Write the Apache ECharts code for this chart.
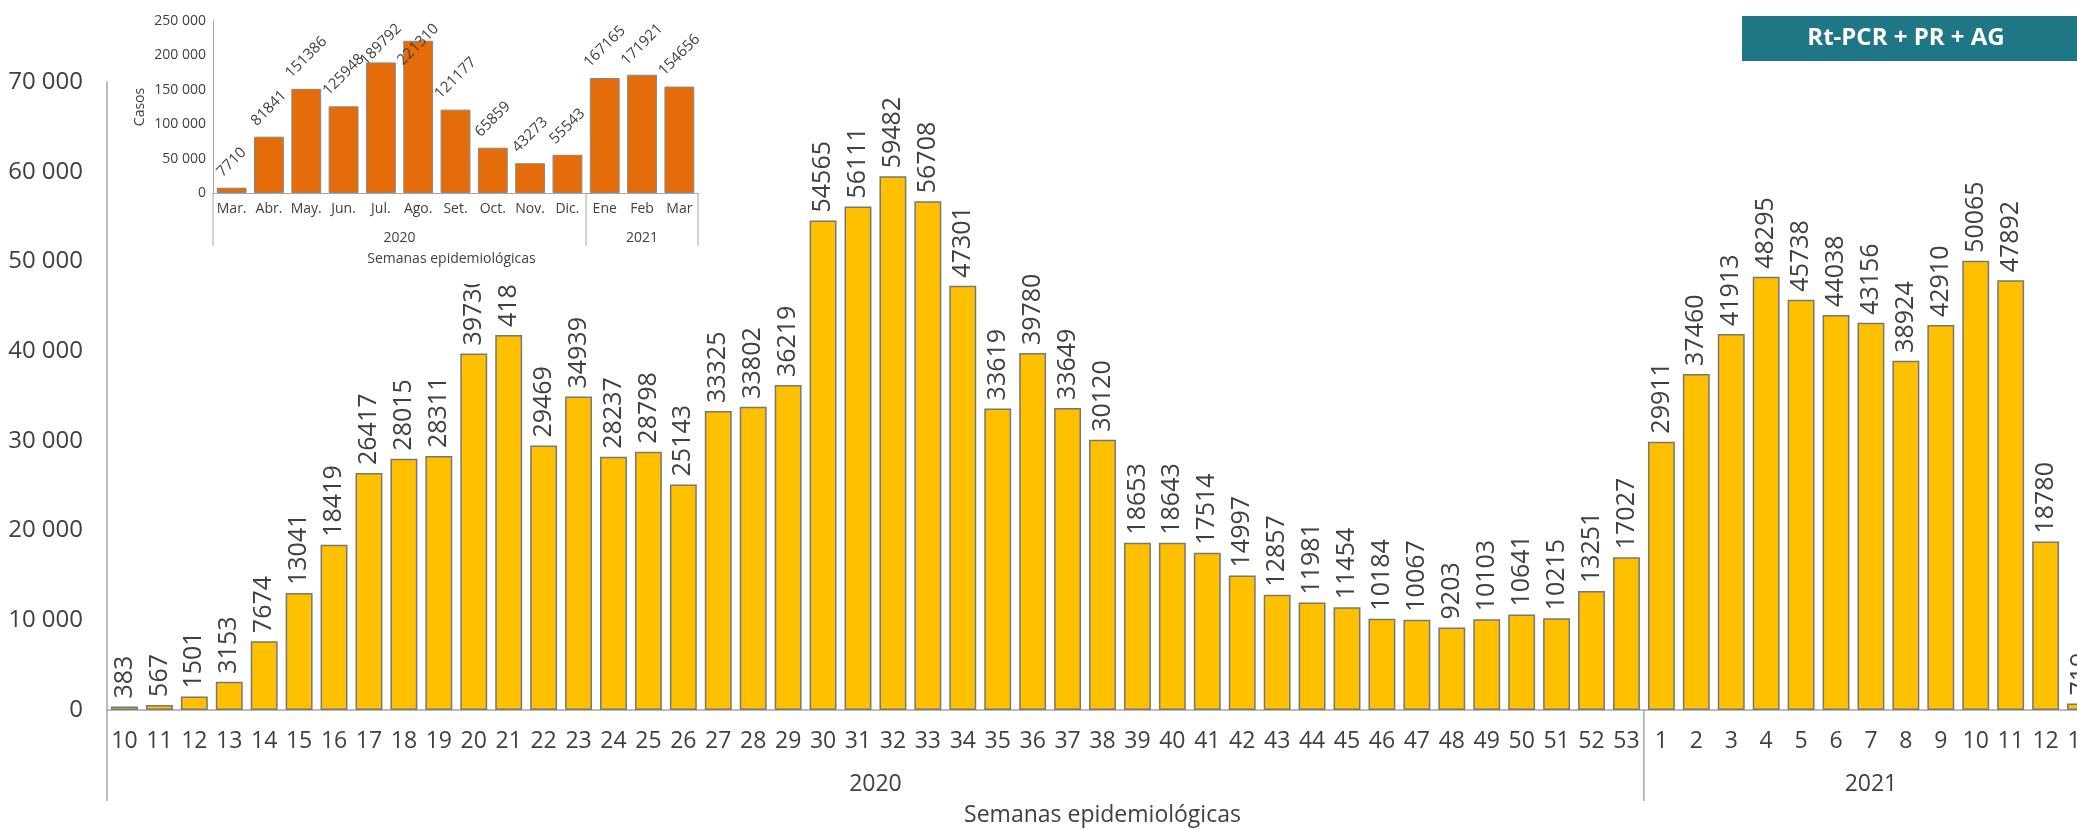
<!DOCTYPE html>
<html><head><meta charset="utf-8">
<script src="https://cdn.jsdelivr.net/npm/echarts@6/dist/echarts.min.js"></script>
<style>html,body{margin:0;padding:0;overflow:hidden;background:#fff}#c{width:2100px;height:829px}</style>
</head><body><div id="c"></div>
<script>
// ---- main chart data (weekly cases) ----
const weeks2020 = ['10','11','12','13','14','15','16','17','18','19','20','21','22','23','24','25','26','27','28','29','30','31','32','33','34','35','36','37','38','39','40','41','42','43','44','45','46','47','48','49','50','51','52','53'];
const weeks2021 = ['1','2','3','4','5','6','7','8','9','10','11','12','13'];
const cases2020 = [383,567,1501,3153,7674,13041,18419,26417,28015,28311,39730,41800,29469,34939,28237,28798,25143,33325,33802,36219,54565,56111,59482,56708,47301,33619,39780,33649,30120,18653,18643,17514,14997,12857,11981,11454,10184,10067,9203,10103,10641,10215,13251,17027];
const cases2021 = [29911,37460,41913,48295,45738,44038,43156,38924,42910,50065,47892,18780,719];
const yearLabels = ['2020','2021'];
const yTicks = [0,10000,20000,30000,40000,50000,60000,70000];

// ---- inset data (monthly cases) ----
const months2020 = ['Mar.','Abr.','May.','Jun.','Jul.','Ago.','Set.','Oct.','Nov.','Dic.'];
const months2021 = ['Ene','Feb','Mar'];
const monthly2020 = [7710,81841,151386,125948,189792,221310,121177,65859,43273,55543];
const monthly2021 = [167165,171921,154656];

const FONT = 'Open Sans';
const TXT = '#404040';
const fmt = v => String(v).replace(/\B(?=(\d{3})+(?!\d))/g, ' ');

const weekCats = weeks2020.concat(weeks2021);
const weekVals = cases2020.concat(cases2021);
const monthCats = months2020.concat(months2021);
const monthVals = monthly2020.concat(monthly2021);

const INSET_TOP = 21;

const chart = echarts.init(document.getElementById('c'), null, {renderer: 'canvas'});

const option = {
  animation: false,
  backgroundColor: '#fff',
  textStyle: {fontFamily: FONT, color: TXT},
  grid: [
    {left: 107, right: 2, top: 82, bottom: 119},
    {left: 213, right: 1402, top: INSET_TOP, bottom: 636}
  ],
  xAxis: [
    {
      type: 'category', gridIndex: 0, data: weekCats,
      axisLine: {lineStyle: {color: '#a6a6a6', width: 1.5}},
      axisTick: {show: false},
      axisLabel: {interval: 0, fontSize: 23, color: TXT, fontFamily: FONT, margin: 20}
    },
    {
      type: 'category', gridIndex: 1, data: monthCats, z: 60,
      axisLine: {lineStyle: {color: '#a6a6a6', width: 1}},
      axisTick: {show: false},
      axisLabel: {interval: 0, fontSize: 14, color: TXT, fontFamily: FONT, margin: 9}
    }
  ],
  yAxis: [
    {
      type: 'value', gridIndex: 0, min: 0, max: 70000, interval: 10000,
      axisLine: {show: true, lineStyle: {color: '#a6a6a6', width: 1.5}},
      axisTick: {show: false},
      splitLine: {show: false},
      axisLabel: {fontSize: 24, color: TXT, fontFamily: FONT, margin: 24, formatter: v => yTicks.indexOf(v) >= 0 ? fmt(v) : ''}
    },
    {
      type: 'value', gridIndex: 1, min: 0, max: 250000, interval: 50000, z: 60,
      name: 'Casos', nameLocation: 'middle', nameGap: 66, nameRotate: 90,
      nameTextStyle: {fontSize: 14, color: TXT, fontFamily: FONT},
      axisLine: {show: true, lineStyle: {color: '#a6a6a6', width: 1}},
      axisTick: {show: false},
      splitLine: {show: false},
      axisLabel: {fontSize: 14, color: TXT, fontFamily: FONT, margin: 7, formatter: v => fmt(v)}
    }
  ],
  series: [
    {
      type: 'bar', xAxisIndex: 0, yAxisIndex: 0, z: 2,
      data: weekVals,
      barCategoryGap: '23%',
      itemStyle: {color: '#FFC000', borderColor: '#777', borderWidth: 1.5},
      label: {show: true, position: 'top', rotate: 90, align: 'left', verticalAlign: 'middle', distance: 8,
              fontSize: 25, color: TXT, fontFamily: FONT}
    },
    {
      type: 'bar', xAxisIndex: 1, yAxisIndex: 1, z: 60,
      data: monthVals,
      barCategoryGap: '20%',
      itemStyle: {color: '#E46C0A', borderColor: '#888', borderWidth: 1},
      label: {show: true, position: 'top', rotate: 45, align: 'center', verticalAlign: 'middle',
              fontSize: 15, color: TXT, fontFamily: FONT},
      labelLayout: function (p) {
        const h = p.labelRect.height;
        let y = p.rect.y - 8 - h / 2;
        if (y - h / 2 < INSET_TOP) y = INSET_TOP + h / 2;
        return {x: p.rect.x + p.rect.width / 2, y: y, align: 'center', verticalAlign: 'middle'};
      }
    }
  ],
  graphic: {elements: [
    {id: 'cover', type: 'rect', z: 50, shape: {x: 115, y: 0, width: 605, height: 284}, style: {fill: '#fff'}, silent: true},
    {id: 'badge', type: 'rect', z: 70, shape: {x: 1742, y: 16, width: 360, height: 45}, style: {fill: '#1f7785'}},
    {id: 'badgeText', type: 'text', z: 71, x: 1906, y: 38,
     style: {text: 'Rt-PCR + PR + AG', fill: '#fff', font: 'bold 24px "Open Sans"', textAlign: 'center', textVerticalAlign: 'middle'}}
  ]}
};
chart.setOption(option);

// positions derived from the axes
function catPx(axisIdx, i) { return chart.convertToPixel({xAxisIndex: axisIdx}, i); }
function addYearDecor() {
  const els = [];
  // main chart
  const mStep = catPx(0, 1) - catPx(0, 0);
  const mLeft = catPx(0, 0) - mStep / 2;
  const mSplit = (catPx(0, weeks2020.length - 1) + catPx(0, weeks2020.length)) / 2;
  const mRight = catPx(0, weekCats.length - 1) + mStep / 2;
  const mBase = chart.convertToPixel({yAxisIndex: 0}, 0);
  const lineStyle = {stroke: '#a6a6a6', lineWidth: 1.5};
  els.push({id: 'mSep0', type: 'line', z: 5, shape: {x1: mLeft, y1: mBase, x2: mLeft, y2: 801}, style: lineStyle});
  els.push({id: 'mSep1', type: 'line', z: 5, shape: {x1: mSplit, y1: mBase, x2: mSplit, y2: 801}, style: lineStyle});
  els.push({id: 'mY0', type: 'text', z: 5, x: (mLeft + mSplit) / 2, y: 784,
            style: {text: yearLabels[0], fill: TXT, font: '23px "Open Sans"', textAlign: 'center', textVerticalAlign: 'middle'}});
  els.push({id: 'mY1', type: 'text', z: 5, x: (mSplit + mRight) / 2, y: 784,
            style: {text: yearLabels[1], fill: TXT, font: '23px "Open Sans"', textAlign: 'center', textVerticalAlign: 'middle'}});
  els.push({id: 'mTitle', type: 'text', z: 5, x: (mLeft + mRight) / 2, y: 815,
            style: {text: 'Semanas epidemiológicas', fill: TXT, font: '23px "Open Sans"', textAlign: 'center', textVerticalAlign: 'middle'}});
  // inset
  const iStep = catPx(1, 1) - catPx(1, 0);
  const iLeft = catPx(1, 0) - iStep / 2;
  const iSplit = (catPx(1, months2020.length - 1) + catPx(1, months2020.length)) / 2;
  const iRight = catPx(1, monthCats.length - 1) + iStep / 2;
  const iBase = chart.convertToPixel({yAxisIndex: 1}, 0);
  const iLine = {stroke: '#a6a6a6', lineWidth: 1};
  [iLeft, iSplit, iRight].forEach((x, k) => {
    els.push({id: 'iSep' + k, type: 'line', z: 61, shape: {x1: x, y1: iBase, x2: x, y2: 246}, style: iLine});
  });
  els.push({id: 'iY0', type: 'text', z: 61, x: (iLeft + iSplit) / 2, y: 238,
            style: {text: yearLabels[0], fill: TXT, font: '14px "Open Sans"', textAlign: 'center', textVerticalAlign: 'middle'}});
  els.push({id: 'iY1', type: 'text', z: 61, x: (iSplit + iRight) / 2, y: 238,
            style: {text: yearLabels[1], fill: TXT, font: '14px "Open Sans"', textAlign: 'center', textVerticalAlign: 'middle'}});
  els.push({id: 'iTitle', type: 'text', z: 61, x: (iLeft + iRight) / 2 - 4, y: 259,
            style: {text: 'Semanas epidemiológicas', fill: TXT, font: '14px "Open Sans"', textAlign: 'center', textVerticalAlign: 'middle'}});
  chart.setOption({graphic: {elements: els}});
}
addYearDecor();
</script>
</body></html>
